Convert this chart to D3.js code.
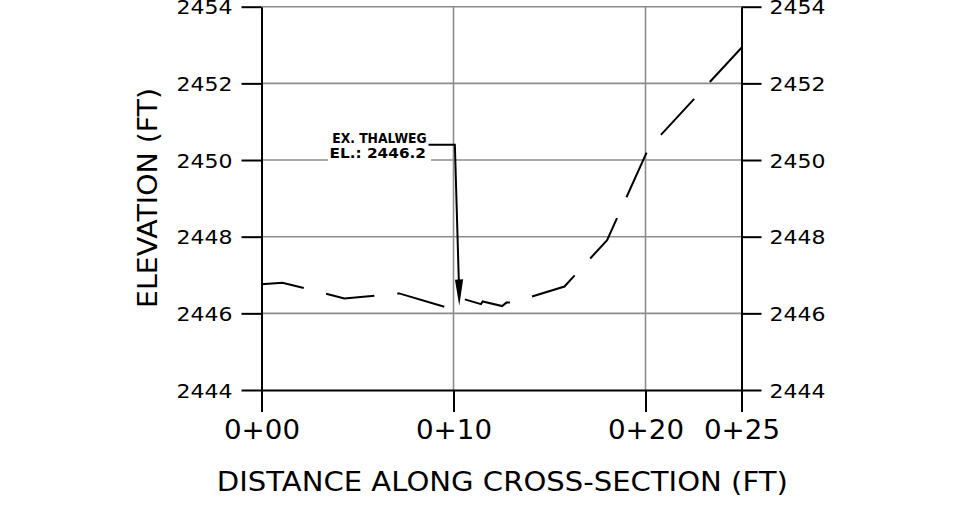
<!DOCTYPE html>
<html>
<head>
<meta charset="utf-8">
<script src="https://cdn.jsdelivr.net/npm/d3@7"></script>
<style>
  body { margin: 0; background: #fff; }
  svg text { font-family: "DejaVu Sans", sans-serif; fill: #000; }
</style>
</head>
<body>
<div id="chart"></div>
<script>
// Ground profile
var distances  = [0, 1.09, 4.32, 7.17, 9.73, 10.56, 11.43, 11.52, 12.53, 12.76, 13.07, 15.78, 18.0, 20.16, 25];
var elevations = [2446.76, 2446.80, 2446.39, 2446.52, 2446.14, 2446.37, 2446.24, 2446.31, 2446.19, 2446.28, 2446.28, 2446.70, 2447.91, 2450.31, 2452.93];

// Axis ticks
var yTicks = [2444, 2446, 2448, 2450, 2452, 2454];
var xTicks = [0, 10, 20, 25];
var xTickLabels = ["0+00", "0+10", "0+20", "0+25"];

// Thalweg callout
var thalwegPoint = [10.3, 2446.2];
var thalwegLines = ["EX. THALWEG", "EL.: 2446.2"];

var width = 980, height = 508;

var svg = d3.select("#chart")
  .append("svg")
  .attr("width", width)
  .attr("height", height);

// Scales
var x = d3.scaleLinear().domain([0, 25]).range([261.5, 741.5]);
var y = d3.scaleLinear().domain([2444, 2454]).range([390, 6.7]);

var grey = "#8c8c8c";

// Horizontal grid lines
svg.append("g")
  .selectAll("line")
  .data(yTicks.filter(function(d) { return d !== 2444; }))
  .enter().append("line")
  .attr("x1", x(0)).attr("x2", x(25))
  .attr("y1", function(d) { return y(d); })
  .attr("y2", function(d) { return y(d); })
  .attr("stroke", grey)
  .attr("stroke-width", 1.6);

// Vertical grid lines
svg.append("g")
  .selectAll("line")
  .data([10, 20])
  .enter().append("line")
  .attr("x1", function(d) { return x(d); })
  .attr("x2", function(d) { return x(d); })
  .attr("y1", y(2454)).attr("y2", y(2444))
  .attr("stroke", grey)
  .attr("stroke-width", 1.6);

// White box behind the callout text
svg.append("rect")
  .attr("x", 328).attr("y", 128)
  .attr("width", 103).attr("height", 35)
  .attr("fill", "#fff");

// Left axis
var leftAxis = svg.append("g")
  .attr("transform", "translate(" + x(0) + ",0)")
  .call(d3.axisLeft(y).tickValues(yTicks).tickSize(20).tickSizeOuter(0).tickPadding(9).tickFormat(d3.format("d")));

// Right axis
var rightAxis = svg.append("g")
  .attr("transform", "translate(" + x(25) + ",0)")
  .call(d3.axisRight(y).tickValues(yTicks).tickSize(20).tickSizeOuter(0).tickPadding(8).tickFormat(d3.format("d")));

[leftAxis, rightAxis].forEach(function(g) {
  g.selectAll("text")
    .attr("font-size", 20)
    .attr("dy", "0.36em")
    .attr("textLength", 56)
    .attr("lengthAdjust", "spacingAndGlyphs");
});

// Bottom axis
var bottomAxis = svg.append("g")
  .attr("transform", "translate(0," + y(2444) + ")")
  .call(d3.axisBottom(x).tickValues(xTicks).tickSize(22).tickSizeOuter(0)
    .tickFormat(function(d, i) { return xTickLabels[i]; }));

bottomAxis.selectAll("text")
  .attr("font-size", 27)
  .attr("y", 49.3)
  .attr("dy", null)
  .attr("textLength", 76)
  .attr("lengthAdjust", "spacingAndGlyphs");

// Axis line styling
svg.selectAll(".domain, .tick line")
  .attr("stroke", "#000")
  .attr("stroke-width", 2);
svg.selectAll(".tick text").attr("fill", "#000").attr("font-family", "DejaVu Sans, sans-serif");

// Axis titles
svg.append("text")
  .attr("x", 502.3).attr("y", 490.7)
  .attr("text-anchor", "middle")
  .attr("font-size", 27)
  .attr("textLength", 571)
  .attr("lengthAdjust", "spacingAndGlyphs")
  .text("DISTANCE ALONG CROSS-SECTION (FT)");

svg.append("text")
  .attr("transform", "translate(156.7,198) rotate(-90)")
  .attr("text-anchor", "middle")
  .attr("font-size", 27)
  .attr("textLength", 220)
  .attr("lengthAdjust", "spacingAndGlyphs")
  .text("ELEVATION  (FT)");

// Ground profile line
var line = d3.line()
  .x(function(d) { return x(d[0]); })
  .y(function(d) { return y(d[1]); });

svg.append("path")
  .datum(d3.zip(distances, elevations))
  .attr("d", line)
  .attr("fill", "none")
  .attr("stroke", "#000")
  .attr("stroke-width", 2)
  .attr("stroke-dasharray", "49,23")
  .attr("stroke-dashoffset", 6);

// Thalweg callout: leader and arrow
var tipX = x(thalwegPoint[0]), tipY = y(thalwegPoint[1]);
var elbowX = tipX - 4.4, elbowY = y(2450.4);

svg.append("path")
  .attr("d", "M428.5," + elbowY + "L" + elbowX + "," + elbowY + "L" + (tipX - 0.3) + "," + (tipY - 20))
  .attr("fill", "none")
  .attr("stroke", "#000")
  .attr("stroke-width", 2);

svg.append("path")
  .attr("d", "M" + tipX + "," + tipY + "L" + (tipX - 4.3) + "," + (tipY - 26) + "L" + (tipX + 3.9) + "," + (tipY - 26.4) + "Z")
  .attr("fill", "#000");

svg.append("g")
  .selectAll("text")
  .data(thalwegLines)
  .enter().append("text")
  .attr("x", function(d, i) { return i === 0 ? 426.7 : 426; })
  .attr("y", function(d, i) { return i === 0 ? 142.5 : 157.8; })
  .attr("text-anchor", "end")
  .attr("font-size", 14)
  .attr("font-weight", "bold")
  .attr("textLength", function(d, i) { return i === 0 ? 94.5 : 96.5; })
  .attr("lengthAdjust", "spacingAndGlyphs")
  .text(function(d) { return d; });
</script>
</body>
</html>
